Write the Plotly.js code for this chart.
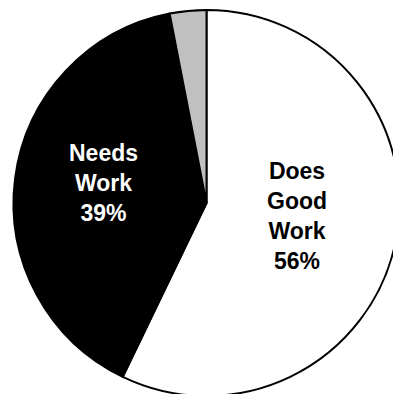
<!DOCTYPE html>
<html>
<head>
<meta charset="utf-8">
<script src="https://cdn.plot.ly/plotly-3.0.1.min.js"></script>
<style>
html, body { margin: 0; padding: 0; overflow: hidden; background: #fff; }
#chart { width: 413px; height: 407px; }
</style>
</head>
<body>
<div id="chart"></div>
<script>
const categories = ["Does Good Work", "Needs Work", "Other"];
const values = [56, 39, 3];
const sliceText = ["Does<br>Good<br>Work<br>56%", "Needs<br>Work<br>39%", ""];
const sliceColors = ["#ffffff", "#000000", "#c0c0c0"];
const textColors = ["#000000", "#ffffff", "#000000"];

const labelFont = { family: "Liberation Sans, Arial, sans-serif", size: 23, weight: "bold" };
const labelPos = [[0.7191, 0.4655], [0.2518, 0.5531]];
const annotations = labelPos.map((p, i) => ({
  xref: "paper", yref: "paper", x: p[0], y: p[1],
  xanchor: "center", yanchor: "middle", showarrow: false,
  text: "<b>" + sliceText[i].split("<br>").join("</b><br><b>") + "</b>",
  font: Object.assign({}, labelFont, { color: textColors[i] })
}));

Plotly.newPlot("chart", [{
  type: "pie",
  labels: categories,
  values: values,
  textinfo: "none",
  sort: false,
  direction: "clockwise",
  rotation: 0,
  hoverinfo: "none",
  marker: { colors: sliceColors, line: { color: "#000000", width: 2 } }
}], {
  width: 413,
  height: 407,
  margin: { l: 0, r: 0, t: 10, b: 11 },
  showlegend: false,
  paper_bgcolor: "#ffffff",
  annotations: annotations
}, { staticPlot: true, displayModeBar: false });
</script>
</body>
</html>
